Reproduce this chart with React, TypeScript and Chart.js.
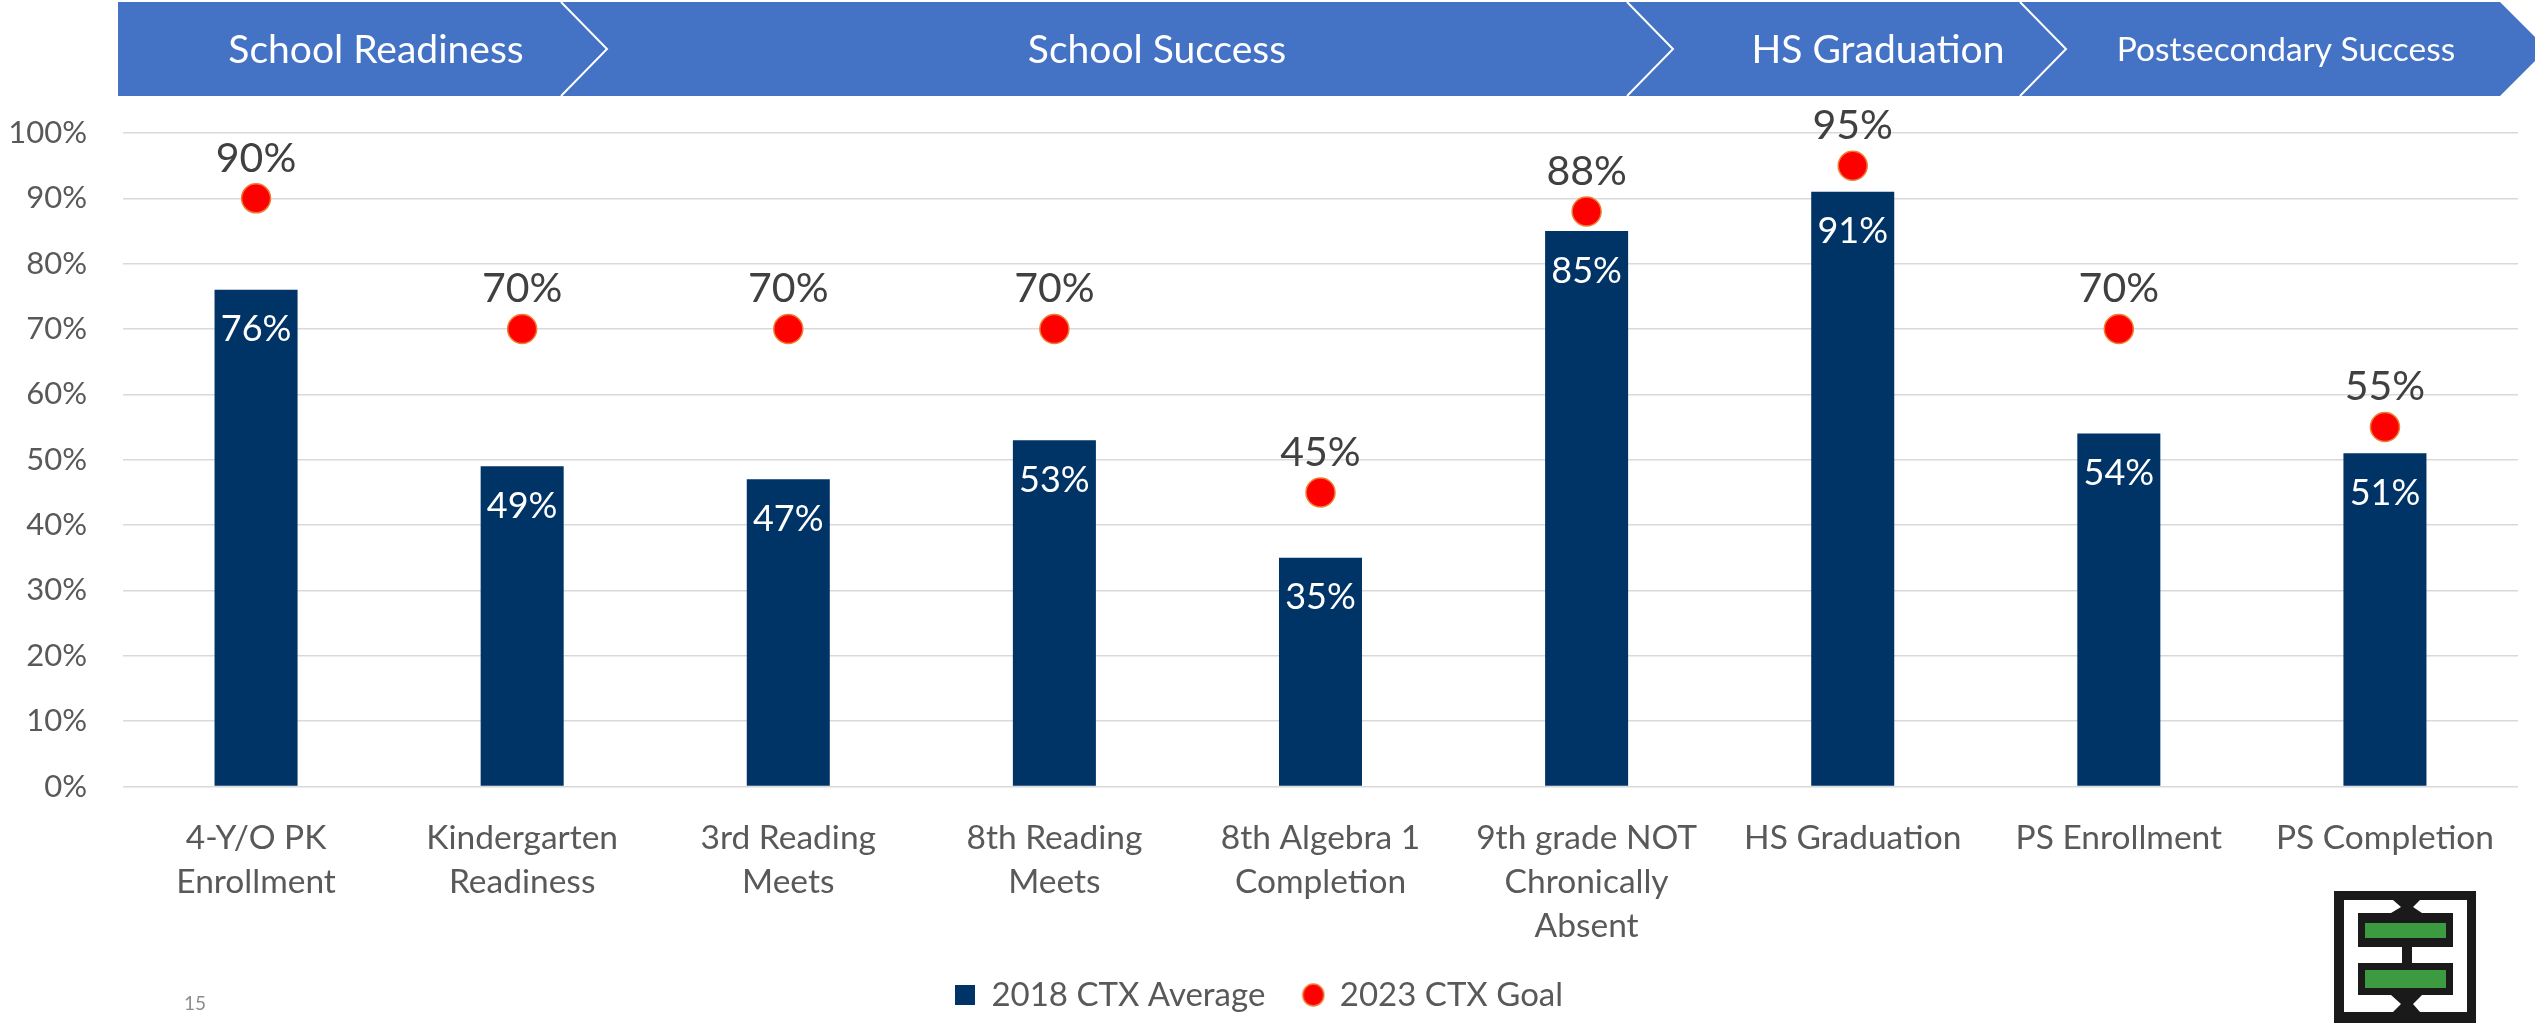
import React, { useEffect, useRef } from "react";
import { Chart, registerables } from "chart.js";

Chart.register(...registerables);

const CATEGORIES: (string | string[])[] = [
  ["4-Y/O PK", "Enrollment"],
  ["Kindergarten", "Readiness"],
  ["3rd Reading", "Meets"],
  ["8th Reading", "Meets"],
  ["8th Algebra 1", "Completion"],
  ["9th grade NOT", "Chronically", "Absent"],
  "HS Graduation",
  "PS Enrollment",
  "PS Completion",
];
const AVG_2018 = [76, 49, 47, 53, 35, 85, 91, 54, 51];
const GOAL_2023 = [90, 70, 70, 70, 45, 88, 95, 70, 55];
const SERIES_NAMES = ["2018 CTX Average", "2023 CTX Goal"];
const Y_TICKS = [0, 10, 20, 30, 40, 50, 60, 70, 80, 90, 100];
const STAGES = ["School Readiness", "School Success", "HS Graduation", "Postsecondary Success"];
const PAGE_NUMBER = "15";

const NAVY = "#003366";
const RED = "#FF0000";
const ORANGE = "#ED7D31";
const BLUE = "#4472C4";
const FONT = "Lato";

function makeSquare() {
  const c = document.createElement("canvas");
  c.width = 20;
  c.height = 20;
  const x = c.getContext("2d")!;
  x.fillStyle = NAVY;
  x.fillRect(0, 0, 20, 20);
  return c;
}
function makeDot() {
  const c = document.createElement("canvas");
  c.width = 24;
  c.height = 24;
  const x = c.getContext("2d")!;
  x.beginPath();
  x.ellipse(12, 12, 10.5, 11, 0, 0, Math.PI * 2);
  x.fillStyle = RED;
  x.fill();
  x.lineWidth = 1.5;
  x.strokeStyle = ORANGE;
  x.stroke();
  return c;
}

const decorPlugin = {
  id: "decor",
  beforeDraw(chart: any) {
    const ctx = chart.ctx as CanvasRenderingContext2D;
    ctx.save();
    const top = 2, bot = 96, mid = 49;
    ctx.fillStyle = BLUE;
    ctx.beginPath();
    ctx.moveTo(118, top);
    ctx.lineTo(2500, top);
    ctx.lineTo(2547, mid);
    ctx.lineTo(2500, bot);
    ctx.lineTo(118, bot);
    ctx.closePath();
    ctx.fill();
    ctx.strokeStyle = "#ffffff";
    ctx.lineWidth = 2;
    [561, 1627, 2020].forEach((x0) => {
      ctx.beginPath();
      ctx.moveTo(x0, top);
      ctx.lineTo(x0 + 46, mid);
      ctx.lineTo(x0, bot);
      ctx.stroke();
    });
    ctx.fillStyle = "#ffffff";
    ctx.textAlign = "center";
    ctx.textBaseline = "middle";
    const centers = [376, 1157, 1878, 2286];
    STAGES.forEach((s, i) => {
      ctx.font = `${i === 3 ? 33.5 : 39}px ${FONT}`;
      ctx.fillText(s, centers[i], mid + 1);
    });
    ctx.restore();
  },
  afterDraw(chart: any) {
    const ctx = chart.ctx as CanvasRenderingContext2D;
    ctx.save();
    ctx.fillStyle = "#8C8C8C";
    ctx.font = `19px ${FONT}`;
    ctx.textAlign = "left";
    ctx.textBaseline = "middle";
    ctx.fillText(PAGE_NUMBER, 184, 1004);
    // logo
    ctx.fillStyle = "#1a1a1a";
    ctx.fillRect(2334, 891, 142, 132);
    ctx.fillStyle = "#ffffff";
    ctx.fillRect(2344, 900, 123, 112);
    ctx.fillStyle = "#1a1a1a";
    ctx.beginPath();
    ctx.moveTo(2393, 900); ctx.lineTo(2420, 900); ctx.lineTo(2413, 907);
    ctx.lineTo(2422, 913); ctx.lineTo(2391, 913); ctx.lineTo(2401, 907);
    ctx.closePath(); ctx.fill();
    ctx.fillRect(2358, 913, 95, 34);
    ctx.fillRect(2402, 947, 10, 16);
    ctx.fillRect(2358, 963, 95, 32);
    ctx.beginPath();
    ctx.moveTo(2391, 995); ctx.lineTo(2422, 995); ctx.lineTo(2413, 1004);
    ctx.lineTo(2420, 1012); ctx.lineTo(2393, 1012); ctx.lineTo(2401, 1004);
    ctx.closePath(); ctx.fill();
    ctx.fillStyle = "#3C9B40";
    ctx.fillRect(2365, 923, 81, 15);
    ctx.fillRect(2365, 970, 81, 18);
    ctx.restore();
  },
};

const valueLabelPlugin = {
  id: "valueLabels",
  afterDatasetsDraw(chart: any) {
    const ctx = chart.ctx as CanvasRenderingContext2D;
    ctx.save();
    ctx.textAlign = "center";
    ctx.textBaseline = "middle";
    ctx.font = `36px ${FONT}`;
    ctx.fillStyle = "#ffffff";
    chart.getDatasetMeta(0).data.forEach((el: any, i: number) => {
      ctx.fillText(AVG_2018[i] + "%", el.x, el.y + 40);
    });
    ctx.font = `41px ${FONT}`;
    ctx.fillStyle = "#404040";
    chart.getDatasetMeta(1).data.forEach((el: any, i: number) => {
      ctx.fillText(GOAL_2023[i] + "%", el.x, el.y - 40);
    });
    ctx.restore();
  },
};

export default function App() {
  const ref = useRef<HTMLCanvasElement | null>(null);
  useEffect(() => {
    document.body.style.margin = "0";
    const canvas = ref.current!;
    const markers = [makeSquare(), makeDot()];
    const chart = new Chart(canvas, {
      type: "bar",
      data: {
        labels: CATEGORIES as any,
        datasets: [
          {
            type: "bar",
            label: SERIES_NAMES[0],
            data: AVG_2018,
            backgroundColor: NAVY,
            barPercentage: 0.312,
            categoryPercentage: 1,
            order: 2,
          } as any,
          {
            type: "line",
            label: SERIES_NAMES[1],
            data: GOAL_2023,
            showLine: false,
            pointRadius: 14.5,
            pointHoverRadius: 14.5,
            pointBackgroundColor: RED,
            pointBorderColor: ORANGE,
            pointBorderWidth: 1.5,
            order: 1,
          } as any,
        ],
      },
      options: {
        responsive: false,
        animation: false,
        devicePixelRatio: 1,
        layout: { padding: { top: 133, left: 0, right: 17, bottom: 1.5 } },
        plugins: {
          tooltip: { enabled: false },
          legend: {
            position: "bottom",
            labels: {
              usePointStyle: true,
              boxWidth: 20,
              boxHeight: 20,
              padding: 38,
              color: "#595959",
              font: { family: FONT, size: 33 },
              generateLabels: (c: any) => {
                const items = Chart.defaults.plugins.legend.labels.generateLabels(c);
                items.sort((a: any, b: any) => a.datasetIndex - b.datasetIndex);
                items.forEach((it: any) => {
                  it.pointStyle = markers[it.datasetIndex];
                });
                return items;
              },
            },
          },
        },
        scales: {
          x: {
            grid: { display: false, drawTicks: false },
            border: { display: false },
            ticks: {
              color: "#595959",
              font: { family: FONT, size: 33.5, lineHeight: 1.31 },
              padding: 30,
              maxRotation: 0,
              autoSkip: false,
            },
            afterFit: (s: any) => {
              s.height = 154;
            },
          },
          y: {
            min: 0,
            max: 100,
            grid: { color: "#D9D9D9", lineWidth: 1.5, drawTicks: false },
            border: { display: false },
            afterBuildTicks: (s: any) => {
              s.ticks = Y_TICKS.map((v) => ({ value: v }));
            },
            ticks: {
              color: "#595959",
              font: { family: FONT, size: 31 },
              padding: 36,
              callback: (v: any) => v + "%",
            },
            afterFit: (s: any) => {
              s.width = 123;
            },
          },
        },
      },
      plugins: [decorPlugin, valueLabelPlugin],
    } as any);
    return () => chart.destroy();
  }, []);
  return (
    <div style={{ width: 2535, height: 1023 }}>
      <canvas ref={ref} width={2535} height={1023} style={{ display: "block" }} />
    </div>
  );
}
